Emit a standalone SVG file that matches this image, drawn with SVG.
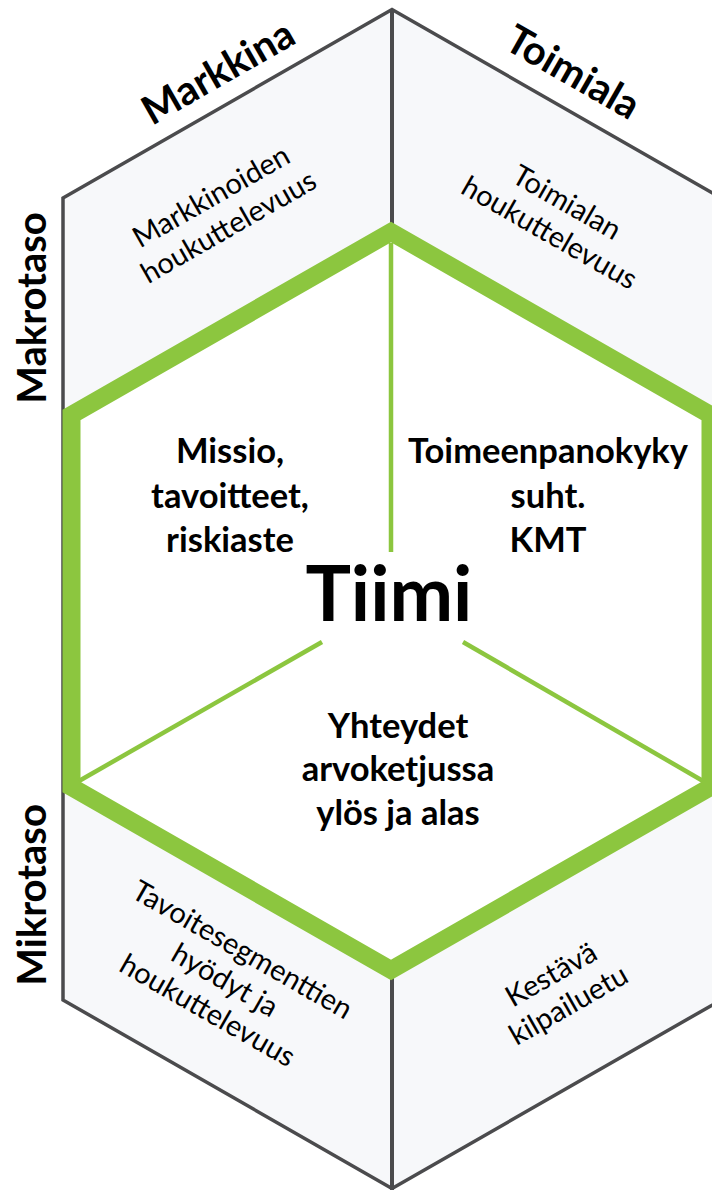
<svg xmlns="http://www.w3.org/2000/svg" width="712" height="1190" viewBox="0 0 712 1190">
  <style>
    .frame { fill: #f7f8fa; stroke: #4b4b4d; stroke-width: 3.5; stroke-linejoin: miter; }
    .divider { stroke: #4b4b4d; stroke-width: 4; }
    .core { fill: #ffffff; stroke: #8cc63f; stroke-width: 18; stroke-linejoin: miter; }
    .spoke { stroke: #8cc63f; stroke-width: 4.5; fill: none; }
    .head { font-family: Lato, "Open Sans", "Liberation Sans", sans-serif; font-weight: 700; fill: #000; }
    .side { font-family: Lato, "Open Sans", "Liberation Sans", sans-serif; font-weight: 400; fill: #000; font-size: 29px; }
    .inner { font-family: Lato, "Open Sans", "Liberation Sans", sans-serif; font-weight: 700; fill: #000; font-size: 34.5px; text-anchor: middle; }
    .c { text-anchor: middle; }
  </style>

  <!-- outer frame with the four context segments -->
  <g id="frame">
    <polygon class="frame" points="392,9.5 63,198 63,1000 392,1188.5 721,1000 721,198"/>
    <line class="divider" x1="392" y1="9.5" x2="392" y2="232"/>
    <line class="divider" x1="392" y1="970" x2="392" y2="1190"/>
  </g>

  <!-- green core hexagon -->
  <g id="core">
    <polygon class="core" points="391,232 71.5,415 71.5,787 391,970 710.5,787 710.5,415"/>
  </g>

  <!-- spokes from the centre to the corners -->
  <g id="connectors">
    <line class="spoke" x1="391" y1="243" x2="391" y2="552"/>
    <line class="spoke" x1="322" y1="642" x2="79" y2="781"/>
    <line class="spoke" x1="463" y1="642" x2="703" y2="781"/>
  </g>

  <!-- axis labels -->
  <g id="label-makrotaso">
    <text class="head c" font-size="40" transform="translate(46,308) rotate(-90)">Makrotaso</text>
  </g>
  <g id="label-mikrotaso">
    <text class="head c" font-size="40" transform="translate(46,895) rotate(-90)">Mikrotaso</text>
  </g>
  <g id="label-markkina">
    <text class="head c" font-size="40" transform="translate(218,72) rotate(-29.8) translate(0,14)">Markkina</text>
  </g>
  <g id="label-toimiala">
    <text class="head c" font-size="40" transform="translate(573,72) rotate(29.8) translate(0,14)">Toimiala</text>
  </g>

  <!-- outer segments -->
  <g id="seg-markkinoiden" transform="translate(220,212) rotate(-29.8)">
    <text class="side c" y="-8">Markkinoiden</text>
    <text class="side c" y="27">houkuttelevuus</text>
  </g>
  <g id="seg-toimialan" transform="translate(558,218) rotate(29.8)">
    <text class="side c" y="-8">Toimialan</text>
    <text class="side c" y="27">houkuttelevuus</text>
  </g>
  <g id="seg-tavoitesegmenttien" transform="translate(225,980) rotate(29.8)">
    <text class="side c" y="-25">Tavoitesegmenttien</text>
    <text class="side c" y="10">hyödyt ja</text>
    <text class="side c" y="45">houkuttelevuus</text>
  </g>
  <g id="seg-kestava" transform="translate(560,990) rotate(-29.8)">
    <text class="side c" y="-8">Kestävä</text>
    <text class="side c" y="27">kilpailuetu</text>
  </g>

  <!-- core segments -->
  <g id="core-missio">
    <text class="inner" x="230" y="463">Missio,</text>
    <text class="inner" x="230" y="508">tavoitteet,</text>
    <text class="inner" x="230" y="552">riskiaste</text>
  </g>
  <g id="core-toimeenpanokyky">
    <text class="inner" x="548" y="463">Toimeenpanokyky</text>
    <text class="inner" x="548" y="508">suht.</text>
    <text class="inner" x="548" y="552">KMT</text>
  </g>
  <g id="core-yhteydet">
    <text class="inner" x="398" y="738">Yhteydet</text>
    <text class="inner" x="398" y="781">arvoketjussa</text>
    <text class="inner" x="398" y="825">ylös ja alas</text>
  </g>
  <g id="core-tiimi">
    <text class="head c" font-size="76" x="389" y="621">Tiimi</text>
  </g>
</svg>
